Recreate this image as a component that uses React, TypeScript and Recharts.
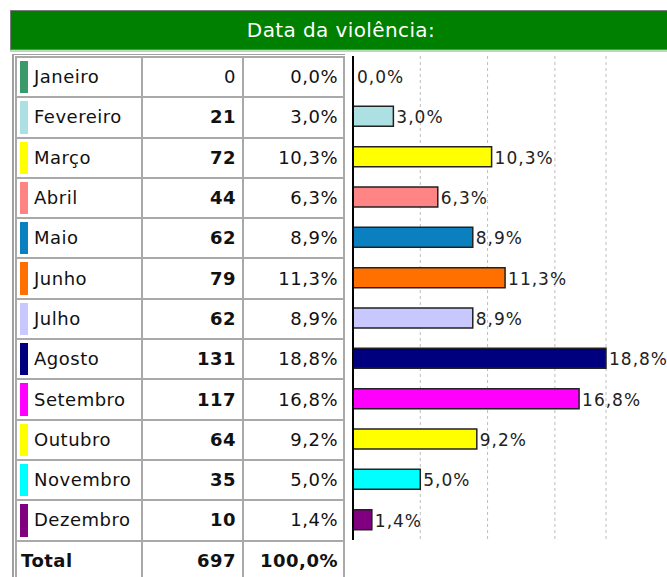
import React from 'react';
import { BarChart, Bar, XAxis, YAxis, CartesianGrid, Cell, LabelList } from 'recharts';

const months = [
  'Janeiro', 'Fevereiro', 'Março', 'Abril', 'Maio', 'Junho',
  'Julho', 'Agosto', 'Setembro', 'Outubro', 'Novembro', 'Dezembro',
];
const counts = [0, 21, 72, 44, 62, 79, 62, 131, 117, 64, 35, 10];
const percents = [0.0, 3.0, 10.3, 6.3, 8.9, 11.3, 8.9, 18.8, 16.8, 9.2, 5.0, 1.4];
const colors = [
  '#3a9a6a', '#ade0e2', '#ffff00', '#ff8585', '#0a80c0', '#ff7000',
  '#c8c8ff', '#00007f', '#ff00ff', '#ffff00', '#00ffff', '#800080',
];
const gridTicks = [5, 10, 15, 18.8];
const totalCount = 697;
const totalPct = '100,0%';

const FONT = '"DejaVu Sans", Verdana, sans-serif';
const fmt = (v: number) => v.toFixed(1).replace('.', ',') + '%';

const data = months.map((name, i) => ({
  name,
  count: counts[i],
  pct: percents[i],
  label: fmt(percents[i]),
}));

const cellBorder = '2px solid #a9a9a9';
const ROW_H = 40.3;

const renderLabel = (props: any) => {
  const { x, y, width, height, value } = props;
  return (
    <text
      x={Number(x) + Number(width || 0) + 3}
      y={Number(y) + Number(height) / 2 + 1}
      dominantBaseline="central"
      fill="#222"
      fontSize={17}
      letterSpacing={1}
      fontFamily={FONT}
    >
      {value}
    </text>
  );
};

export default function App() {
  return (
    <div
      style={{
        position: 'fixed',
        left: 0,
        top: 0,
        width: 667,
        height: 577,
        overflow: 'hidden',
        background: '#fff',
        fontFamily: FONT,
        color: '#111',
      }}
    >
      <div
        style={{
          position: 'absolute',
          left: 10,
          top: 10,
          width: 670,
          height: 38,
          background: '#008000',
          border: '1px solid #7a7a7a',
          boxShadow: '0 2px 0 #b5dcb5',
          color: '#fff',
          fontSize: 20,
          lineHeight: '38px',
          textAlign: 'center',
          letterSpacing: 0.4,
        }}
      >
        <span style={{ position: 'relative', left: -5 }}>Data da violência:</span>
      </div>

      <div
        style={{
          position: 'absolute',
          left: 12,
          top: 54,
          borderLeft: '2px solid #a0a0a0',
          borderTop: '1px solid #a0a0a0',
          paddingLeft: 1,
          paddingTop: 1,
        }}
      >
        <table
          style={{
            borderCollapse: 'collapse',
            fontSize: 18,
            letterSpacing: 0.5,
            tableLayout: 'fixed',
          }}
        >
          <colgroup>
            <col style={{ width: 126 }} />
            <col style={{ width: 101 }} />
            <col style={{ width: 101 }} />
          </colgroup>
          <tbody>
            {data.map((d, i) => (
              <tr key={d.name} style={{ height: ROW_H }}>
                <td style={{ border: cellBorder, padding: 0, position: 'relative' }}>
                  <div
                    style={{
                      position: 'absolute',
                      left: 3,
                      top: 3,
                      bottom: 3,
                      width: 8,
                      background: colors[i],
                    }}
                  />
                  <div style={{ paddingLeft: 17, paddingBottom: 1 }}>{d.name}</div>
                </td>
                <td
                  style={{
                    border: cellBorder,
                    textAlign: 'right',
                    padding: '0 6px 1px 0',
                    fontWeight: d.count > 0 ? 'bold' : 'normal',
                  }}
                >
                  {d.count}
                </td>
                <td style={{ border: cellBorder, textAlign: 'right', padding: '0 5px 1px 0' }}>
                  {d.label}
                </td>
              </tr>
            ))}
            <tr style={{ height: 40, fontWeight: 'bold' }}>
              <td style={{ border: cellBorder, padding: '0 0 1px 4px' }}>Total</td>
              <td style={{ border: cellBorder, textAlign: 'right', padding: '0 6px 1px 0' }}>
                {totalCount}
              </td>
              <td style={{ border: cellBorder, textAlign: 'right', padding: '0 5px 1px 0' }}>
                {totalPct}
              </td>
            </tr>
          </tbody>
        </table>
      </div>

      <div style={{ position: 'absolute', left: 351, top: 56 }}>
        <BarChart
          width={316}
          height={484}
          data={data}
          layout="vertical"
          margin={{ top: 0, right: 61, bottom: 0, left: 1 }}
        >
          <CartesianGrid
            horizontal={false}
            vertical={true}
            stroke="#bdbdbd"
            strokeDasharray="3 3"
          />
          <XAxis type="number" domain={[0, 18.8]} ticks={gridTicks} hide />
          <YAxis
            type="category"
            dataKey="name"
            width={1}
            tick={false}
            tickLine={false}
            axisLine={{ stroke: '#000', strokeWidth: 2 }}
          />
          <Bar
            dataKey="pct"
            barSize={20}
            stroke="#222"
            strokeWidth={1.5}
            minPointSize={1}
            isAnimationActive={false}
          >
            {data.map((d, i) => (
              <Cell
                key={d.name}
                fill={d.pct > 0 ? colors[i] : 'none'}
                stroke={d.pct > 0 ? '#222' : 'none'}
              />
            ))}
            <LabelList dataKey="label" content={renderLabel} />
          </Bar>
        </BarChart>
      </div>
    </div>
  );
}
